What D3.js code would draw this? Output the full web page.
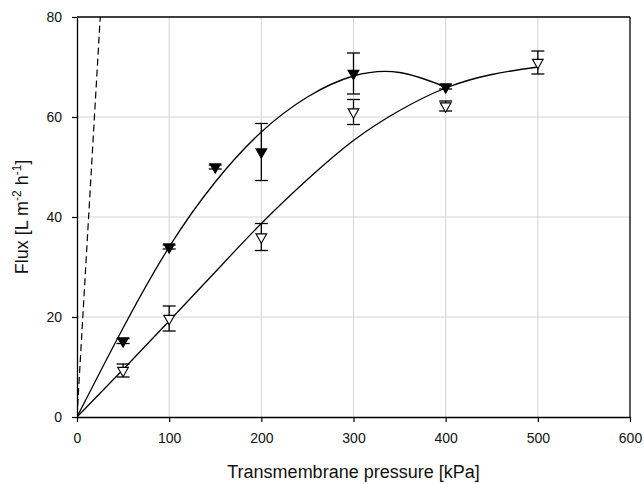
<!DOCTYPE html>
<html>
<head>
<meta charset="utf-8">
<script src="https://cdn.jsdelivr.net/npm/d3@7"></script>
<style>
  body { margin: 0; background: #fff; }
  svg { display: block; font-family: "Liberation Sans", Arial, sans-serif; }
</style>
</head>
<body>
<div id="chart"></div>
<script>
// measured points (filled triangles)
var pressureFilled = [50, 100, 150, 200, 300, 400];
var fluxFilled = [15.2, 34, 50, 53, 68.7, 66];
var errFilled = [0.5, 0.4, 0.4, 5.7, 4.1, 0.4];

// measured points (open triangles)
var pressureOpen = [50, 100, 200, 300, 400, 500];
var fluxOpen = [9.3, 19.7, 36, 61, 62.2, 70.9];
var errOpen = [1.3, 2.5, 2.7, 2.5, 1.0, 2.3];

// fitted curves
var fitFilledX = [0, 50, 100, 150, 200, 250, 300, 350, 400];
var fitFilledY = [0, 17.8, 34, 47, 57, 64, 68.2, 68.9, 66];
var fitOpenX = [0, 50, 100, 150, 200, 250, 300, 350, 400, 450, 500];
var fitOpenY = [0, 9.5, 19.2, 29, 38.7, 47.5, 55.3, 61.3, 65.8, 68.5, 70];

// dashed reference line
var dashX = [0, 25.2];
var dashY = [0, 80];

var xTicks = [0, 100, 200, 300, 400, 500, 600];
var yTicks = [0, 20, 40, 60, 80];

var width = 644,
    height = 484,
    margin = {top: 17, right: 14, bottom: 67, left: 77};

var svg = d3.select("#chart").append("svg")
    .attr("width", width)
    .attr("height", height);

var x = d3.scaleLinear().domain([0, 600]).range([margin.left, width - margin.right]);
var y = d3.scaleLinear().domain([0, 80]).range([height - margin.bottom, margin.top]);

svg.append("clipPath").attr("id", "plot")
    .append("rect")
    .attr("x", x(0)).attr("y", y(80))
    .attr("width", x(600) - x(0)).attr("height", y(0) - y(80));

// grid
svg.append("g").selectAll("line")
    .data(xTicks.filter(function(d) { return d > 0 && d < 600; }))
    .enter().append("line")
    .attr("x1", function(d) { return x(d); })
    .attr("x2", function(d) { return x(d); })
    .attr("y1", y(0)).attr("y2", y(80))
    .attr("stroke", "#d4d4d4").attr("stroke-width", 1);
svg.append("g").selectAll("line")
    .data(yTicks.filter(function(d) { return d > 0 && d < 80; }))
    .enter().append("line")
    .attr("y1", function(d) { return y(d); })
    .attr("y2", function(d) { return y(d); })
    .attr("x1", x(0)).attr("x2", x(600))
    .attr("stroke", "#d4d4d4").attr("stroke-width", 1);

// axes
var xAxis = svg.append("g")
    .attr("transform", "translate(0," + y(0) + ")")
    .call(d3.axisBottom(x).tickValues(xTicks).tickSize(5).tickPadding(11).tickSizeOuter(0));
var yAxis = svg.append("g")
    .attr("transform", "translate(" + x(0) + ",0)")
    .call(d3.axisLeft(y).tickValues(yTicks).tickSize(5).tickPadding(10).tickSizeOuter(0));
[xAxis, yAxis].forEach(function(a) {
    a.select(".domain").attr("stroke", "#000").attr("stroke-width", 1.3);
    a.selectAll(".tick line").attr("stroke", "#000").attr("stroke-width", 1.2);
    a.selectAll(".tick text").attr("font-size", 14).attr("fill", "#111")
        .attr("font-family", "Liberation Sans, Arial, sans-serif");
});

// top and right frame
svg.append("line").attr("x1", x(0)).attr("x2", x(600)).attr("y1", y(80)).attr("y2", y(80))
    .attr("stroke", "#000").attr("stroke-width", 1.3);
svg.append("line").attr("x1", x(600)).attr("x2", x(600)).attr("y1", y(0)).attr("y2", y(80))
    .attr("stroke", "#000").attr("stroke-width", 1.3);

var plot = svg.append("g").attr("clip-path", "url(#plot)");

var line = d3.line()
    .x(function(d) { return x(d[0]); })
    .y(function(d) { return y(d[1]); });

plot.append("path")
    .datum(d3.zip(dashX, dashY))
    .attr("d", line.curve(d3.curveLinear))
    .attr("fill", "none").attr("stroke", "#000").attr("stroke-width", 1.2)
    .attr("stroke-dasharray", "7,4");

line.curve(d3.curveNatural);
plot.append("path")
    .datum(d3.zip(fitFilledX, fitFilledY))
    .attr("d", line)
    .attr("fill", "none").attr("stroke", "#000").attr("stroke-width", 1.3);
plot.append("path")
    .datum(d3.zip(fitOpenX, fitOpenY))
    .attr("d", line)
    .attr("fill", "none").attr("stroke", "#000").attr("stroke-width", 1.3);

// error bars + markers
var tri = d3.symbol().type(d3.symbolTriangle).size(50);

function drawSeries(px, py, pe, fill) {
    var data = d3.zip(px, py, pe);
    var g = svg.append("g");
    var eb = g.selectAll("g.eb").data(data).enter().append("g");
    eb.append("line")
        .attr("x1", function(d) { return x(d[0]); })
        .attr("x2", function(d) { return x(d[0]); })
        .attr("y1", function(d) { return y(d[1] - d[2]); })
        .attr("y2", function(d) { return y(d[1] + d[2]); })
        .attr("stroke", "#000").attr("stroke-width", 1.3);
    [-1, 1].forEach(function(s) {
        eb.append("line")
            .attr("x1", function(d) { return x(d[0]) - 6.5; })
            .attr("x2", function(d) { return x(d[0]) + 6.5; })
            .attr("y1", function(d) { return y(d[1] + s * d[2]); })
            .attr("y2", function(d) { return y(d[1] + s * d[2]); })
            .attr("stroke", "#000").attr("stroke-width", 1.3);
    });
    g.selectAll("path").data(data).enter().append("path")
        .attr("d", tri)
        .attr("transform", function(d) {
            return "translate(" + x(d[0]) + "," + y(d[1]) + ") rotate(180)";
        })
        .attr("fill", fill).attr("stroke", "#000").attr("stroke-width", 1.1);
}

drawSeries(pressureOpen, fluxOpen, errOpen, "#fff");
drawSeries(pressureFilled, fluxFilled, errFilled, "#000");

// axis titles
svg.append("text")
    .attr("x", (x(0) + x(600)) / 2).attr("y", 478)
    .attr("text-anchor", "middle").attr("font-size", 18).attr("fill", "#111")
    .text("Transmembrane pressure [kPa]");

var yt = svg.append("text")
    .attr("transform", "translate(28," + ((y(0) + y(80)) / 2) + ") rotate(-90)")
    .attr("text-anchor", "middle").attr("font-size", 18).attr("fill", "#111");
yt.append("tspan").text("Flux [L m");
yt.append("tspan").attr("font-size", 12).attr("dy", -7).text("-2");
yt.append("tspan").attr("dy", 7).text(" h");
yt.append("tspan").attr("font-size", 12).attr("dy", -7).text("-1");
yt.append("tspan").attr("dy", 7).text("]");
</script>
</body>
</html>
